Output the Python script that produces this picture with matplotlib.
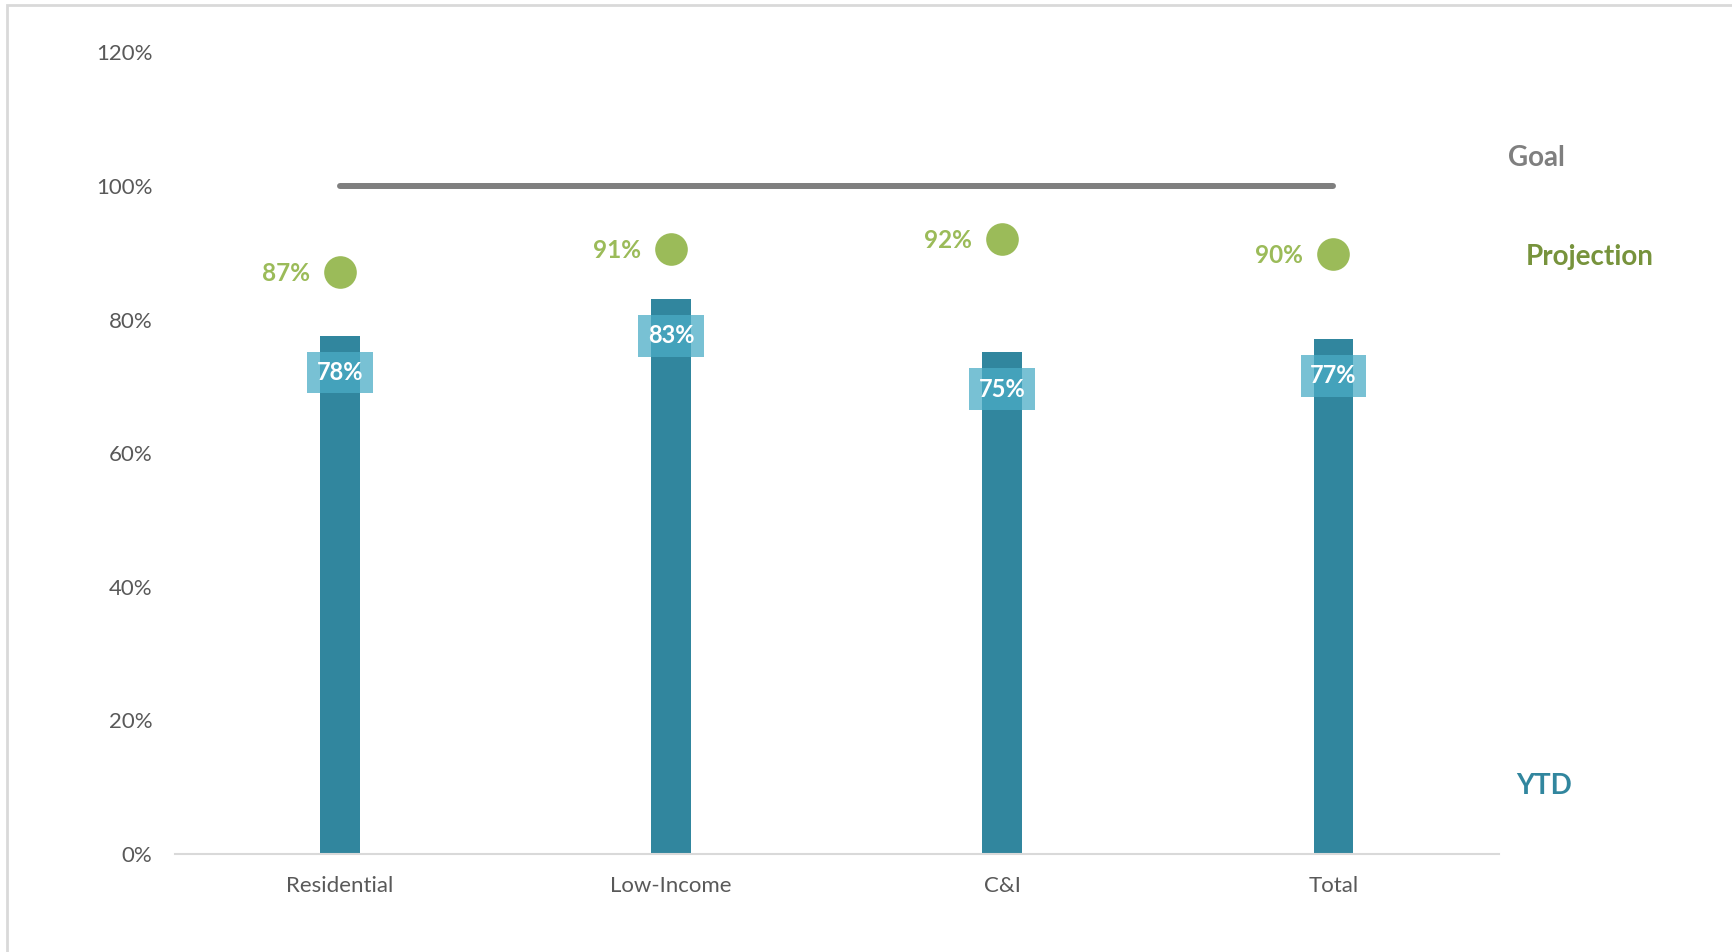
import matplotlib
matplotlib.use("Agg")
import matplotlib.pyplot as plt
from matplotlib.patches import Rectangle
from matplotlib.ticker import FuncFormatter, MultipleLocator

plt.rcParams['font.family'] = ['Lato', 'DejaVu Sans']

categories = ["Residential", "Low-Income", "C&I", "Total"]
ytd = [0.776, 0.831, 0.751, 0.771]
ytd_labels = ["78%", "83%", "75%", "77%"]
projection = [0.871, 0.906, 0.921, 0.898]
proj_labels = ["87%", "91%", "92%", "90%"]
goal = [1.0, 1.0, 1.0, 1.0]

BAR = "#31869E"
BOX = "#4BACC6"
GREEN = "#9BBB59"
GREEN_DARK = "#77933C"
GRAY = "#7F7F7F"
TXT = "#595959"

fig = plt.figure(figsize=(17.32, 9.52), dpi=100)
ax = fig.add_axes([174.5/1732, 1-854/952, (1499-174.5)/1732, (854-52.5)/952])

x = list(range(len(categories)))
ax.bar(x, ytd, width=0.12, color=BAR, zorder=2)

# goal line
ax.plot(x, goal, color=GRAY, lw=4.3, solid_capstyle='round', zorder=3)

# projection dots
ax.scatter(x, projection, s=23.5**2, color=GREEN, zorder=4, linewidths=0)
for xi, v, lab in zip(x, projection, proj_labels):
    ax.annotate(lab, (xi, v), xytext=(-22, -1), textcoords='offset points',
                ha='right', va='center', color=GREEN, fontsize=17.5, fontweight='bold')

# YTD labels in boxes
for xi, v, lab in zip(x, ytd, ytd_labels):
    ax.annotate(lab, (xi, v), xytext=(0, -26.5), textcoords='offset points',
                ha='center', va='center', color='white', fontsize=17, fontweight='bold',
                zorder=5,
                bbox=dict(boxstyle='square,pad=0.4', facecolor=BOX, alpha=0.75,
                          edgecolor='none'))

ax.set_xlim(-0.5, 3.5)
ax.set_ylim(0, 1.2)
ax.yaxis.set_major_locator(MultipleLocator(0.2))
ax.yaxis.set_major_formatter(FuncFormatter(lambda v, p: f"{v*100:.0f}%"))
ax.set_xticks(x)
ax.set_xticklabels(categories)
ax.tick_params(axis='both', length=0, labelsize=16, labelcolor=TXT)
ax.tick_params(axis='y', pad=16)
ax.tick_params(axis='x', pad=16)
for s in ['top', 'right', 'left']:
    ax.spines[s].set_visible(False)
ax.spines['bottom'].set_color('#D9D9D9')
ax.spines['bottom'].set_linewidth(1.5)

# series labels on the right
fig.text(1536.5/1732, 1-158.5/952, "Goal", ha='center', va='center',
         color=GRAY, fontsize=20, fontweight='bold')
fig.text(1589.5/1732, 1-257.5/952, "Projection", ha='center', va='center',
         color=GREEN_DARK, fontsize=20, fontweight='bold')
fig.text(1544.4/1732, 1-786/952, "YTD", ha='center', va='center',
         color=BAR, fontsize=20, fontweight='bold')

# frame border
fig.patches.append(Rectangle((7/1732, -0.1), 1.2, 1-5/952 + 0.1,
                             transform=fig.transFigure, fill=False,
                             edgecolor='#D9D9D9', lw=2))

fig.savefig("out.png", dpi=100)
